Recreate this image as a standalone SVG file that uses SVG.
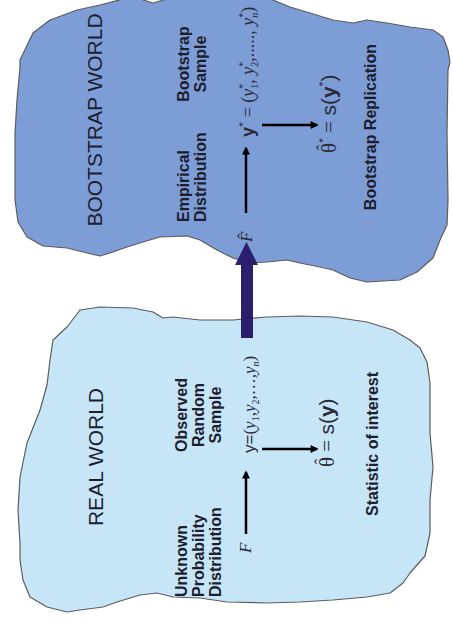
<svg xmlns="http://www.w3.org/2000/svg" width="453" height="627" viewBox="0 0 453 627">
<style>
.blob{stroke:#5c5c5c;stroke-width:1.2;stroke-linejoin:round}
.title{font-family:"Liberation Sans",Arial,sans-serif;font-size:21px;fill:#1e1e2e}
.lbl{font-family:"Liberation Sans",Arial,sans-serif;font-size:16px;font-weight:bold;fill:#1e1e2e}
.math{font-family:"Liberation Serif","Times New Roman",serif;font-size:17px;fill:#2a2a38}
.m18{font-size:18px}
.big{font-size:21px}
.sans{font-family:"Liberation Sans",Arial,sans-serif}
.it{font-style:italic}
.sm{font-size:10px}
.conn{stroke:#000;stroke-width:2.5;fill:none}
</style>
<defs>
<marker id="ah" viewBox="0 0 10 10" refX="8" refY="5" markerWidth="3.4" markerHeight="3.2" orient="auto"><path d="M0,0 L10,5 L0,10 z" fill="#000"/></marker>
</defs>

<g id="bootstrap-world">
<path class="blob" fill="#7d9dd6" d="M20,60 L33,33 L50,20 L77,10 L100,5 L127,-2 L140,-1 L153,3 L167,-1 L200,-6 L260,-6 L273,0 L290,7 L310,13 L333,20 L353,23 L367,20 L387,23 L410,27 L433,30 L443,37 L448,50 L450,62 L448,70 L447,133 L448,200 L447,225 L440,240 L433,258 L417,272 L400,280 L367,282 L350,278 L333,270 L320,267 L300,263 L287,260 L267,262 L250,263 L233,258 L217,250 L200,240 L187,236 L160,237 L143,242 L127,247 L113,252 L100,256 L87,253 L67,248 L43,246 L27,237 L18,222 L15,200 L15,133 L17,100 L20,67 Z"/>
</g>

<g id="real-world">
<path class="blob" fill="#c6e6f8" d="M53,340 L67,327 L80,310 L100,307 L133,308 L153,312 L163,318 L173,317 L200,320 L233,320 L267,317 L300,316 L333,317 L367,322 L393,330 L410,340 L420,348 L427,362 L430,383 L430,433 L433,467 L430,500 L430,533 L425,556 L417,565 L410,573 L403,583 L390,593 L367,597 L333,600 L300,602 L267,603 L227,602 L200,598 L173,597 L157,593 L140,595 L117,602 L103,607 L80,610 L67,612 L47,607 L30,597 L23,580 L20,560 L20,543 L18,510 L20,477 L27,443 L40,410 L47,385 L50,360 Z"/>
</g>

<g id="connectors">
<path id="resample-arrow" fill="#2b1e6c" d="M241,338 L241,265 L235,265 L246.5,242 L258,265 L253,265 L253,338 Z"/>
<line class="conn" x1="246" y1="534" x2="246" y2="472" marker-end="url(#ah)"/>
<line class="conn" x1="262" y1="449" x2="317" y2="449" marker-end="url(#ah)"/>
<line class="conn" x1="246" y1="213" x2="246" y2="148" marker-end="url(#ah)"/>
<line class="conn" x1="262" y1="125" x2="317" y2="125" marker-end="url(#ah)"/>
</g>

<g transform="translate(0,627) rotate(-90)">
<g id="real-texts">
<text class="title" x="170" y="103" text-anchor="middle">REAL WORLD</text>
<text class="lbl" x="30" y="187">Unknown</text>
<text class="lbl" x="30" y="204">Probability</text>
<text class="lbl" x="30" y="221">Distribution</text>
<text class="lbl" x="212" y="187" text-anchor="middle">Observed</text>
<text class="lbl" x="212" y="204" text-anchor="middle">Random</text>
<text class="lbl" x="212" y="221" text-anchor="middle">Sample</text>
<text class="lbl" x="183" y="378" text-anchor="middle">Statistic of interest</text>
</g>
<g id="real-F"><text class="math it" x="74" y="251">F</text></g>
<g id="real-y"><text class="math" x="174" y="255"><tspan class="sans">y=</tspan>(<tspan class="it">y</tspan><tspan class="sm" dy="4">1</tspan><tspan dy="-4">,</tspan><tspan class="it">y</tspan><tspan class="sm" dy="4">2</tspan><tspan dy="-4">,…,</tspan><tspan class="it">y</tspan><tspan class="sm it" dy="4">n</tspan><tspan dy="-4">)</tspan></text></g>
<g id="real-theta">
<text class="math big" x="160" y="334">θ = <tspan class="sans">s(</tspan><tspan class="sans" font-weight="bold">y</tspan><tspan class="sans">)</tspan></text>
<text class="math" x="162.5" y="325.5">ˆ</text>
</g>

<g id="boot-texts">
<text class="title" x="507" y="102" text-anchor="middle">BOOTSTRAP WORLD</text>
<text class="lbl" x="405" y="189">Empirical</text>
<text class="lbl" x="405" y="206">Distribution</text>
<text class="lbl" x="563" y="189" text-anchor="middle">Bootstrap</text>
<text class="lbl" x="563" y="206" text-anchor="middle">Sample</text>
<text class="lbl" x="500" y="376" text-anchor="middle">Bootstrap Replication</text>
</g>
<g id="boot-F">
<text class="math it" x="385" y="252">F</text>
<text class="math" x="388" y="249">ˆ</text>
</g>
<g id="boot-y"><text class="math m18" x="490" y="254"><tspan class="sans" font-weight="bold">y</tspan><tspan class="sm" dy="-8">*</tspan><tspan dy="8"> = (</tspan><tspan class="it">y</tspan><tspan class="sm" dy="-8">*</tspan><tspan class="sm" dx="-5" dy="12">1</tspan><tspan dy="-4">, </tspan><tspan class="it">y</tspan><tspan class="sm" dy="-8">*</tspan><tspan class="sm" dx="-5" dy="12">2</tspan><tspan dy="-4">,....., </tspan><tspan class="it">y</tspan><tspan class="sm" dy="-8">*</tspan><tspan class="sm it" dx="-5" dy="12">n</tspan><tspan dy="-4">)</tspan></text></g>
<g id="boot-theta">
<text class="math big" x="474" y="336">θ<tspan class="sm" dy="-10">*</tspan><tspan dy="10"> = </tspan><tspan class="sans">s(</tspan><tspan class="sans" font-weight="bold">y</tspan><tspan class="sm" dy="-10">*</tspan><tspan class="sans" dy="10">)</tspan></text>
<text class="math" x="476.5" y="327.5">ˆ</text>
</g>
</g>
</svg>
